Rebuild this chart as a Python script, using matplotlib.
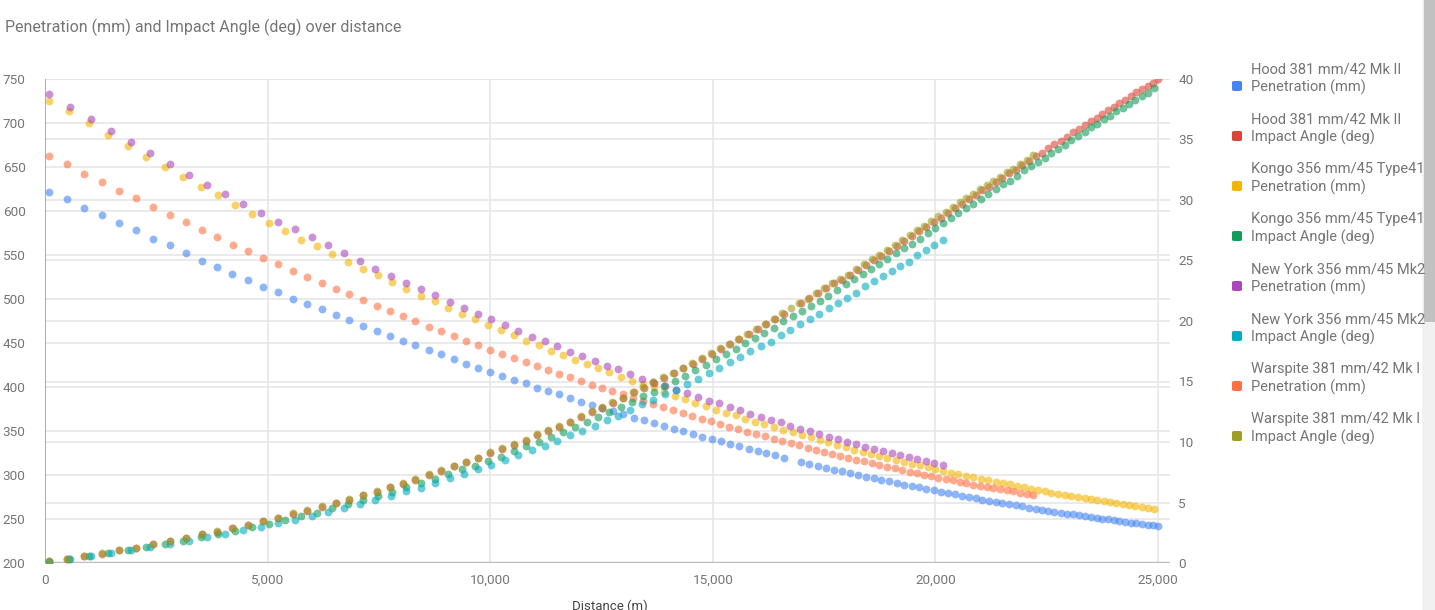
import matplotlib.pyplot as plt
from matplotlib.patches import FancyBboxPatch, Rectangle

plt.rcParams['font.family'] = ['Roboto', 'DejaVu Sans']

# ---- data ----
hood_x = [80, 487, 884, 1280, 1662, 2051, 2426, 2800, 3160, 3520, 3870,
          4207, 4567, 4904, 5234, 5570, 5892, 6215, 6530, 6835, 7143, 7450, 7742, 8048, 8304,
          8625, 8902, 9180, 9463, 9733, 10003, 10265, 10535, 10797, 11051, 11298, 11553, 11800, 12047, 12287,
          12518, 12765, 12990, 13223, 13455, 13680, 13905, 14121, 14338, 14555, 14765, 14982, 15191, 15393,
          15595, 15806, 16008, 16202, 16397, 16592,
          16975, 17168, 17355, 17542, 17722, 17902, 18082, 18261, 18441, 18614, 18785, 18958, 19131, 19302,
          19467, 19632, 19796, 19962, 20119, 20283, 20440, 20598, 20748,
          20905, 21054, 21204, 21354, 21503, 21653, 21803, 21952, 22102, 22252, 22394, 22536, 22670, 22814,
          22949, 23084, 23218, 23353, 23488, 23623, 23749, 23877, 24005, 24131, 24259, 24387, 24513, 24641,
          24768, 24895, 25000]
hood_pen = [622, 614, 603, 595, 586, 578, 568.5, 561, 552, 543.5, 536.7,
            528.8, 522, 514, 508, 500, 494.7, 488.6, 481.8, 476, 469.7, 464, 458, 452.6, 447.4,
            441.6, 437, 431.5, 426.5, 422, 417, 412.5, 408.3, 404, 399.2, 395.5, 391.7, 387.8, 383.3, 380,
            376.5, 373, 369.7, 365, 362, 358.7, 355.7, 352.7, 349.7, 346.6, 343.5, 341, 338.3, 335.2,
            332.6, 330, 327.3, 325, 322.4, 319.7,
            315.1, 312.5, 310.2, 308, 305.7, 304.2, 302.3, 300, 298, 296.2, 294.7, 292.8, 291, 289,
            287.5, 286, 284, 282.6, 280.7, 279.2, 278, 276.5, 275,
            273.5, 271.9, 270.5, 269, 267.8, 266.7, 265.6, 264.4, 262.9, 261.7, 260.6, 259.4, 258.3, 257.2,
            256, 255.3, 254.2, 253.4, 252.3, 251.1, 250.4, 249.6, 248.9, 247.7, 246.6, 245.8, 245.1, 244.3,
            243.5, 242.8, 242]
hood_ang = [0.15, 0.32, 0.58, 0.78, 1.05, 1.25, 1.55, 1.82, 2.07, 2.37, 2.6,
            2.88, 3.13, 3.46, 3.72, 4.07, 4.32, 4.65, 4.95, 5.22, 5.6, 5.88, 6.26, 6.57, 6.9,
            7.28, 7.6, 7.98, 8.32, 8.65, 9.1, 9.43, 9.76, 10.1, 10.58, 10.94, 11.27, 11.63, 12.1, 12.48,
            12.83, 13.22, 13.6, 14.1, 14.49, 14.87, 15.29, 15.67, 16.08, 16.47, 16.88, 17.27, 17.68, 18.06,
            18.48, 18.89, 19.3, 19.72, 20.13, 20.57,
            21.5, 21.9, 22.3, 22.7, 23.1, 23.4, 23.8, 24.2, 24.6, 25.0, 25.4, 25.8, 26.2, 26.6,
            27.0, 27.4, 27.8, 28.2, 28.55, 28.9, 29.3, 29.7, 30.05,
            30.4, 30.8, 31.1, 31.5, 31.8, 32.2, 32.5, 32.9, 33.2, 33.6, 33.9, 34.3, 34.6, 34.9,
            35.2, 35.6, 35.9, 36.2, 36.5, 36.8, 37.1, 37.4, 37.7, 38.0, 38.3, 38.6, 38.9, 39.2,
            39.45, 39.7, 40.0]

kongo_x = [80, 547, 988, 1423, 1857, 2276, 2688, 3100, 3497, 3893,
           4275, 4657, 5024, 5391, 5758, 6110, 6455, 6800, 7136, 7473, 7794, 8116,
           8439, 8753, 9059, 9359, 9658, 9950, 10243, 10535, 10811, 11089, 11366, 11635, 11898, 12168, 12421,
           12675, 12931, 13185, 13432, 13672, 13911, 14151, 14376, 14607, 14840, 15065, 15290, 15515, 15730,
           15948, 16157, 16375, 16577,
           16794, 16996, 17199, 17401, 17594, 17797, 17985, 18180, 18367, 18554, 18741, 18920, 19108, 19288,
           19467, 19647, 19827, 19998, 20171, 20344, 20514, 20687,
           20851, 21017, 21181, 21354, 21511, 21675, 21833, 21990, 22147, 22298, 22455, 22603, 22754, 22904,
           23053, 23203, 23354, 23495, 23637, 23780, 23922, 24063, 24206, 24348, 24490, 24633, 24768, 24903]
kongo_pen = [725.3, 713.6, 700, 686.7, 674.2, 661.7, 650, 638.3, 627, 617.8,
             607.2, 597, 586.7, 577, 567.4, 559.9, 550.8, 542, 533.7, 526.9, 519, 511,
             503, 497.4, 489.8, 483, 477.3, 470.5, 465.1, 458.7, 452.3, 447.4, 441.3, 436.7, 431, 426.5, 421.6,
             416.7, 411.7, 407.2, 403.4, 399.7, 394.7, 390.1, 386.4, 382.2, 378.8, 374.3, 370.8, 367.8, 364,
             360.6, 357.6, 354.5, 351.1,
             348.5, 345.5, 342.8, 339.8, 337.2, 334.1, 331.8, 328.8, 326.5, 324.2, 322, 319.7, 317.4, 315.1,
             312.8, 311, 308.8, 306.8, 304.5, 302.6, 300.8, 298.9,
             297.7, 295.8, 294.3, 292.4, 290.9, 289.4, 287.5, 286, 284.4, 283, 281.5, 279.9, 278.8, 277.3,
             276.1, 275, 273.5, 272.4, 271.2, 270.1, 269, 267.8, 266.7, 265.6, 264.8, 263.6, 262.9, 261.7]
kongo_ang = [0.1, 0.33, 0.6, 0.8, 1.07, 1.3, 1.57, 1.84, 2.15, 2.37,
             2.64, 2.95, 3.25, 3.58, 3.91, 4.16, 4.52, 4.88, 5.2, 5.54, 5.87, 6.25,
             6.64, 6.94, 7.33, 7.74, 8.04, 8.46, 8.79, 9.23, 9.67, 10.0, 10.44, 10.8, 11.24, 11.63, 12.09,
             12.45, 12.92, 13.28, 13.8, 14.16, 14.65, 15.07, 15.45, 15.95, 16.34, 16.88, 17.27, 17.71, 18.2,
             18.62, 19.03, 19.45, 20.02,
             20.4, 20.8, 21.2, 21.65, 22.07, 22.6, 23.06, 23.47, 23.9, 24.32, 24.74, 25.15, 25.6, 26.0,
             26.4, 26.8, 27.25, 27.7, 28.1, 28.5, 28.95, 29.36,
             29.67, 30.08, 30.5, 30.9, 31.3, 31.6, 32.0, 32.45, 32.84, 33.1, 33.5, 33.9, 34.2, 34.57,
             34.98, 35.26, 35.6, 36.0, 36.3, 36.7, 36.97, 37.36, 37.6, 37.96, 38.3, 38.6, 38.87, 39.26]

ny_x = [80, 562, 1026, 1482, 1924, 2366, 2800, 3228, 3639, 4050,
        4447, 4845, 5227, 5608, 5990, 6357, 6709, 7068, 7419, 7765, 8102,
        8439, 8767, 9091, 9405, 9720, 10025, 10333, 10631, 10932, 11224, 11507, 11792, 12069, 12347,
        12616, 12877, 13146, 13409, 13663, 13919, 14170, 14420, 14667, 14908, 15146, 15386, 15611, 15843,
        16076, 16301, 16525,
        16742, 16959, 17177, 17386, 17603, 17806, 18015, 18217, 18418, 18620, 18823, 19018, 19213, 19407,
        19594, 19782, 19976, 20163]
ny_pen = [732.6, 718.2, 704.2, 690.9, 678, 665.6, 653.4, 641.3, 630, 619,
          608.5, 597.7, 587.8, 579.9, 570.5, 561, 551.9, 543.2, 534.4, 526.5, 518.5,
          511.7, 504.2, 496.9, 489.4, 482.6, 476.9, 470.1, 463.6, 457.2, 451.9, 446.2, 440.1, 435.2, 429.9,
          424.2, 420.1, 414.8, 409.4, 405.3, 401.5, 396.6, 393, 389.1, 384.5, 381.5, 377, 373.5, 369.8,
          366, 363, 359.7,
          356, 352.6, 349.7, 346.6, 343.6, 340.6, 337.9, 335.2, 332.2, 329.5, 327.3, 324.6, 322.4, 320.1,
          317.8, 315.6, 313.3, 311.4]
ny_ang = [0.1, 0.33, 0.6, 0.83, 1.07, 1.32, 1.57, 1.84, 2.15, 2.4,
          2.73, 3.0, 3.3, 3.53, 3.86, 4.19, 4.52, 4.88, 5.2, 5.56, 5.95,
          6.22, 6.58, 7.0, 7.38, 7.8, 8.07, 8.51, 8.93, 9.34, 9.67, 10.1, 10.55, 10.9, 11.35,
          11.82, 12.17, 12.64, 13.14, 13.5, 13.97, 14.3, 14.82, 15.24, 15.73, 16.12, 16.61, 17.02, 17.52,
          17.91, 18.3, 18.84,
          19.23, 19.78, 20.17, 20.58, 21.1, 21.5, 21.9, 22.34, 22.9, 23.28, 23.7, 24.1, 24.52, 24.9,
          25.45, 25.87, 26.3, 26.7]

warspite_x = [80, 487, 884, 1280, 1662, 2051, 2426, 2800, 3160, 3520, 3870,
              4222, 4567, 4904, 5234, 5570, 5892, 6215, 6530, 6835, 7143, 7450, 7742, 8048, 8304,
              8625, 8902, 9180, 9463, 9733, 10003, 10265, 10535, 10797, 11051, 11298, 11553, 11800, 12047, 12287,
              12505, 12743, 12983, 13208, 13432, 13657, 13882, 14106, 14324, 14533, 14750, 14960, 15169, 15371,
              15573, 15775, 15970, 16173, 16367, 16562,
              16749, 16936, 17131, 17318, 17498, 17677, 17864, 18044, 18224, 18396, 18569, 18741, 18913, 19086,
              19250, 19422, 19587, 19744, 19908, 20065, 20231, 20388, 20545, 20695,
              20851, 21002, 21152, 21301, 21451, 21601, 21750, 21900, 22050, 22199]
warspite_pen = [662.5, 653.4, 642, 633.3, 623.1, 614.4, 604.5, 595.1, 587.1, 578, 570.5,
                561.7, 554.5, 546.6, 539.8, 531.8, 525.4, 517.8, 511.4, 505.7, 498.5, 492.4, 486, 480.3, 475,
                468.5, 463.6, 457.6, 452.6, 447.7, 442, 437.5, 433.3, 428.8, 423.5, 419.3, 415.1, 411.4, 406.5, 402.6,
                398.9, 395.1, 392, 387.2, 383.8, 380.7, 376.9, 373.5, 370.5, 367, 364, 361, 358, 355,
                352.3, 349.2, 346.6, 344, 341.3, 338.6,
                336.4, 333.8, 331, 328.8, 326.1, 323.9, 322, 319.7, 317.4, 315.6, 313.3, 311.4, 309.4, 307.6,
                305.7, 303.8, 301.9, 300, 298.5, 297, 295.5, 294, 292.4, 290.9,
                289, 287.5, 286.4, 285.2, 283.7, 282.6, 281.5, 279.9, 278.4, 276.9]
warspite_ang = [0.17, 0.33, 0.6, 0.8, 1.07, 1.27, 1.57, 1.84, 2.09, 2.4, 2.62,
                2.92, 3.17, 3.5, 3.75, 4.11, 4.36, 4.69, 4.99, 5.26, 5.65, 5.93, 6.31, 6.61, 6.94,
                7.33, 7.66, 8.04, 8.37, 8.7, 9.15, 9.48, 9.81, 10.14, 10.63, 10.99, 11.32, 11.68, 12.17, 12.54,
                12.89, 13.28, 13.66, 14.16, 14.55, 14.93, 15.35, 15.73, 16.14, 16.53, 16.94, 17.33, 17.74, 18.12,
                18.54, 18.95, 19.36, 19.78, 20.19, 20.63,
                21.07, 21.46, 21.84, 22.29, 22.7, 23.12, 23.45, 23.83, 24.27, 24.69, 25.1, 25.48, 25.87, 26.3,
                26.67, 27.08, 27.5, 27.88, 28.24, 28.65, 29.03, 29.45, 29.83, 30.2,
                30.5, 30.9, 31.2, 31.6, 31.9, 32.3, 32.6, 33.0, 33.3, 33.7]

labels = ["Hood 381 mm/42 Mk II\nPenetration (mm)", "Hood 381 mm/42 Mk II\nImpact Angle (deg)",
          "Kongo 356 mm/45 Type41\nPenetration (mm)", "Kongo 356 mm/45 Type41\nImpact Angle (deg)",
          "New York 356 mm/45 Mk2\nPenetration (mm)", "New York 356 mm/45 Mk2\nImpact Angle (deg)",
          "Warspite 381 mm/42 Mk I\nPenetration (mm)", "Warspite 381 mm/42 Mk I\nImpact Angle (deg)"]
colors = ["#4285F4", "#DB4437", "#F4B400", "#0F9D58", "#AB47BC", "#00ACC1", "#FF7043", "#9E9D24"]

text_col = "#757575"
grid_col = "#e6e6e6"

fig = plt.figure(figsize=(14.35, 6.1), dpi=100)
ax = fig.add_axes([45 / 1435, 1 - 563 / 610, 1125 / 1435, 484 / 610])
ax2 = ax.twinx()

ax.set_xlim(0, 25270)
ax.set_ylim(200, 750)
ax2.set_ylim(0, 40)

# gridlines: left axis, right axis and vertical
for v in range(250, 751, 50):
    ax.axhline(v, color=grid_col, lw=1.2, zorder=0)
for v in range(5, 41, 5):
    ax.plot([0, 1], [v, v], transform=ax2.get_yaxis_transform(), color=grid_col, lw=1.2, zorder=0)
for v in range(5000, 25001, 5000):
    ax.axvline(v, color=grid_col, lw=1.2, zorder=0)
ax.axvline(0, color="#9e9e9e", lw=1.2, zorder=1)
ax.axhline(200, color="#bdbdbd", lw=2.5, zorder=1)

ms = 32
ax.scatter(hood_x, hood_pen, s=ms, color=colors[0], alpha=0.6, lw=0, zorder=3)
ax2.scatter(hood_x, hood_ang, s=ms, color=colors[1], alpha=0.6, lw=0, zorder=3)
ax.scatter(kongo_x, kongo_pen, s=ms, color=colors[2], alpha=0.6, lw=0, zorder=3)
ax2.scatter(kongo_x, kongo_ang, s=ms, color=colors[3], alpha=0.6, lw=0, zorder=3)
ax.scatter(ny_x, ny_pen, s=ms, color=colors[4], alpha=0.6, lw=0, zorder=3)
ax2.scatter(ny_x, ny_ang, s=ms, color=colors[5], alpha=0.6, lw=0, zorder=3)
ax.scatter(warspite_x, warspite_pen, s=ms, color=colors[6], alpha=0.6, lw=0, zorder=3)
ax2.scatter(warspite_x, warspite_ang, s=ms, color=colors[7], alpha=0.6, lw=0, zorder=3)

for a in (ax, ax2):
    for s in a.spines.values():
        s.set_visible(False)
ax2.patch.set_visible(False)

ax.set_xticks(range(0, 25001, 5000))
ax.set_xticklabels([f"{v:,}" for v in range(0, 25001, 5000)])
ax.set_yticks(range(200, 751, 50))
ax2.set_yticks(range(0, 41, 5))
ax.tick_params(axis="x", length=0, pad=8, labelsize=9.7, labelcolor=text_col)
ax.tick_params(axis="y", length=0, pad=14, labelsize=9.7, labelcolor=text_col)
ax2.tick_params(axis="y", length=0, pad=6, labelsize=9.7, labelcolor=text_col)

fig.text(5 / 1435, 1 - 27 / 610, "Penetration (mm) and Impact Angle (deg) over distance",
         fontsize=11.5, color=text_col, va="center", ha="left")
fig.text(610 / 1435, 1 - 606 / 610, "Distance (m)", fontsize=9.5, color="#444444",
         va="center", ha="center")

# legend
for i, (lab, c) in enumerate(zip(labels, colors)):
    yc = 86 + i * 50
    fig.text(1251 / 1435, 1 - (yc - 7.5) / 610, lab, fontsize=10.5, color=text_col,
             va="center", ha="left", linespacing=1.25)
    fig.patches.append(FancyBboxPatch(((1232) / 1435, 1 - (yc + 5) / 610), 10 / 1435, 10 / 610,
                                      boxstyle="round,pad=0,rounding_size=0.002",
                                      transform=fig.transFigure, color=c, lw=0))

# scrollbar on the right edge
fig.patches.append(Rectangle((1422 / 1435, 0), 13 / 1435, 1, transform=fig.transFigure,
                             color="#f1f1f1", lw=0))
fig.patches.append(Rectangle((1424 / 1435, 1 - 322 / 610), 11 / 1435, 322 / 610,
                             transform=fig.transFigure, color="#c1c1c1", lw=0))

fig.savefig("out.png", dpi=100)
